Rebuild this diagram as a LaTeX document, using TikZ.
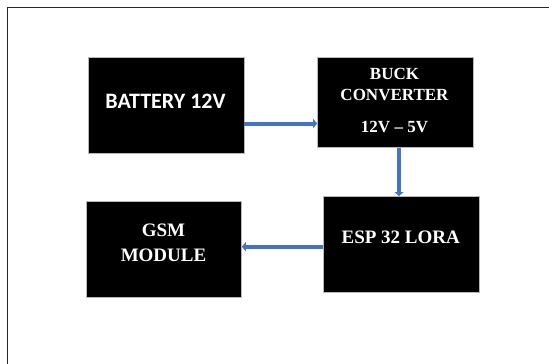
\documentclass[tikz,border=0pt]{standalone}
\usepackage{fontspec}
\setmainfont{Liberation Serif}
\newfontfamily\calib{Carlito}
\usetikzlibrary{arrows.meta}
\definecolor{arrowblue}{RGB}{68,114,196}
\tikzset{
  blk/.style={draw=gray!55, line width=0.6pt, fill=black, inner sep=0pt, anchor=north west},
  lbl/.style={text=white, font=\bfseries, anchor=base, inner sep=0pt},
  conn/.style={draw=arrowblue, line width=4pt, -{Triangle[length=4pt,width=9pt]}},
}
\begin{document}
\begin{tikzpicture}[x=1pt,y=-1pt]
\useasboundingbox (0,0) rectangle (549,364);
\fill[white] (0,0) rectangle (549,364);
\draw[line width=1.3pt, black!85] (7.5,364) -- (7.5,7.5) -- (549,7.5);
% boxes
\node[blk, minimum width=156pt, minimum height=96pt] (batt) at (87.5,57) {};
\node[blk, minimum width=155.5pt, minimum height=90pt] (buck) at (317.2,57.3) {};
\node[blk, minimum width=156pt, minimum height=95.7pt] (esp) at (323.3,196) {};
\node[blk, minimum width=155.4pt, minimum height=95.7pt] (gsm) at (85.8,201.3) {};
% labels
\node[lbl, font=\calib\bfseries\fontsize{22}{24}\selectfont] (battT) at (165.5,108) {BATTERY 12V};
\node[lbl, font=\bfseries\fontsize{17}{19}\selectfont] (buckT1) at (394.5,79.2) {BUCK};
\node[lbl, font=\bfseries\fontsize{17}{19}\selectfont] (buckT2) at (394.5,100.2) {CONVERTER};
\node[lbl, font=\bfseries\fontsize{17}{19}\selectfont] (buckT3) at (394.5,132.7) {12V – 5V};
\node[lbl, font=\bfseries\fontsize{19}{21}\selectfont] (espT) at (400.7,243.3) {ESP 32 LORA};
\node[lbl, font=\bfseries\fontsize{19}{21}\selectfont] (gsmT1) at (163.5,236.7) {GSM};
\node[lbl, font=\bfseries\fontsize{19}{21}\selectfont] (gsmT2) at (163.5,261.2) {MODULE};
% connectors
\draw[conn] (batt.east |- 0,123.5) -- (buck.west |- 0,123.5);
\draw[conn] (buck.south -| 399,0) -- (esp.north -| 399,0);
\draw[conn] (esp.west |- 0,246.7) -- (gsm.east |- 0,246.7);
\end{tikzpicture}
\end{document}
